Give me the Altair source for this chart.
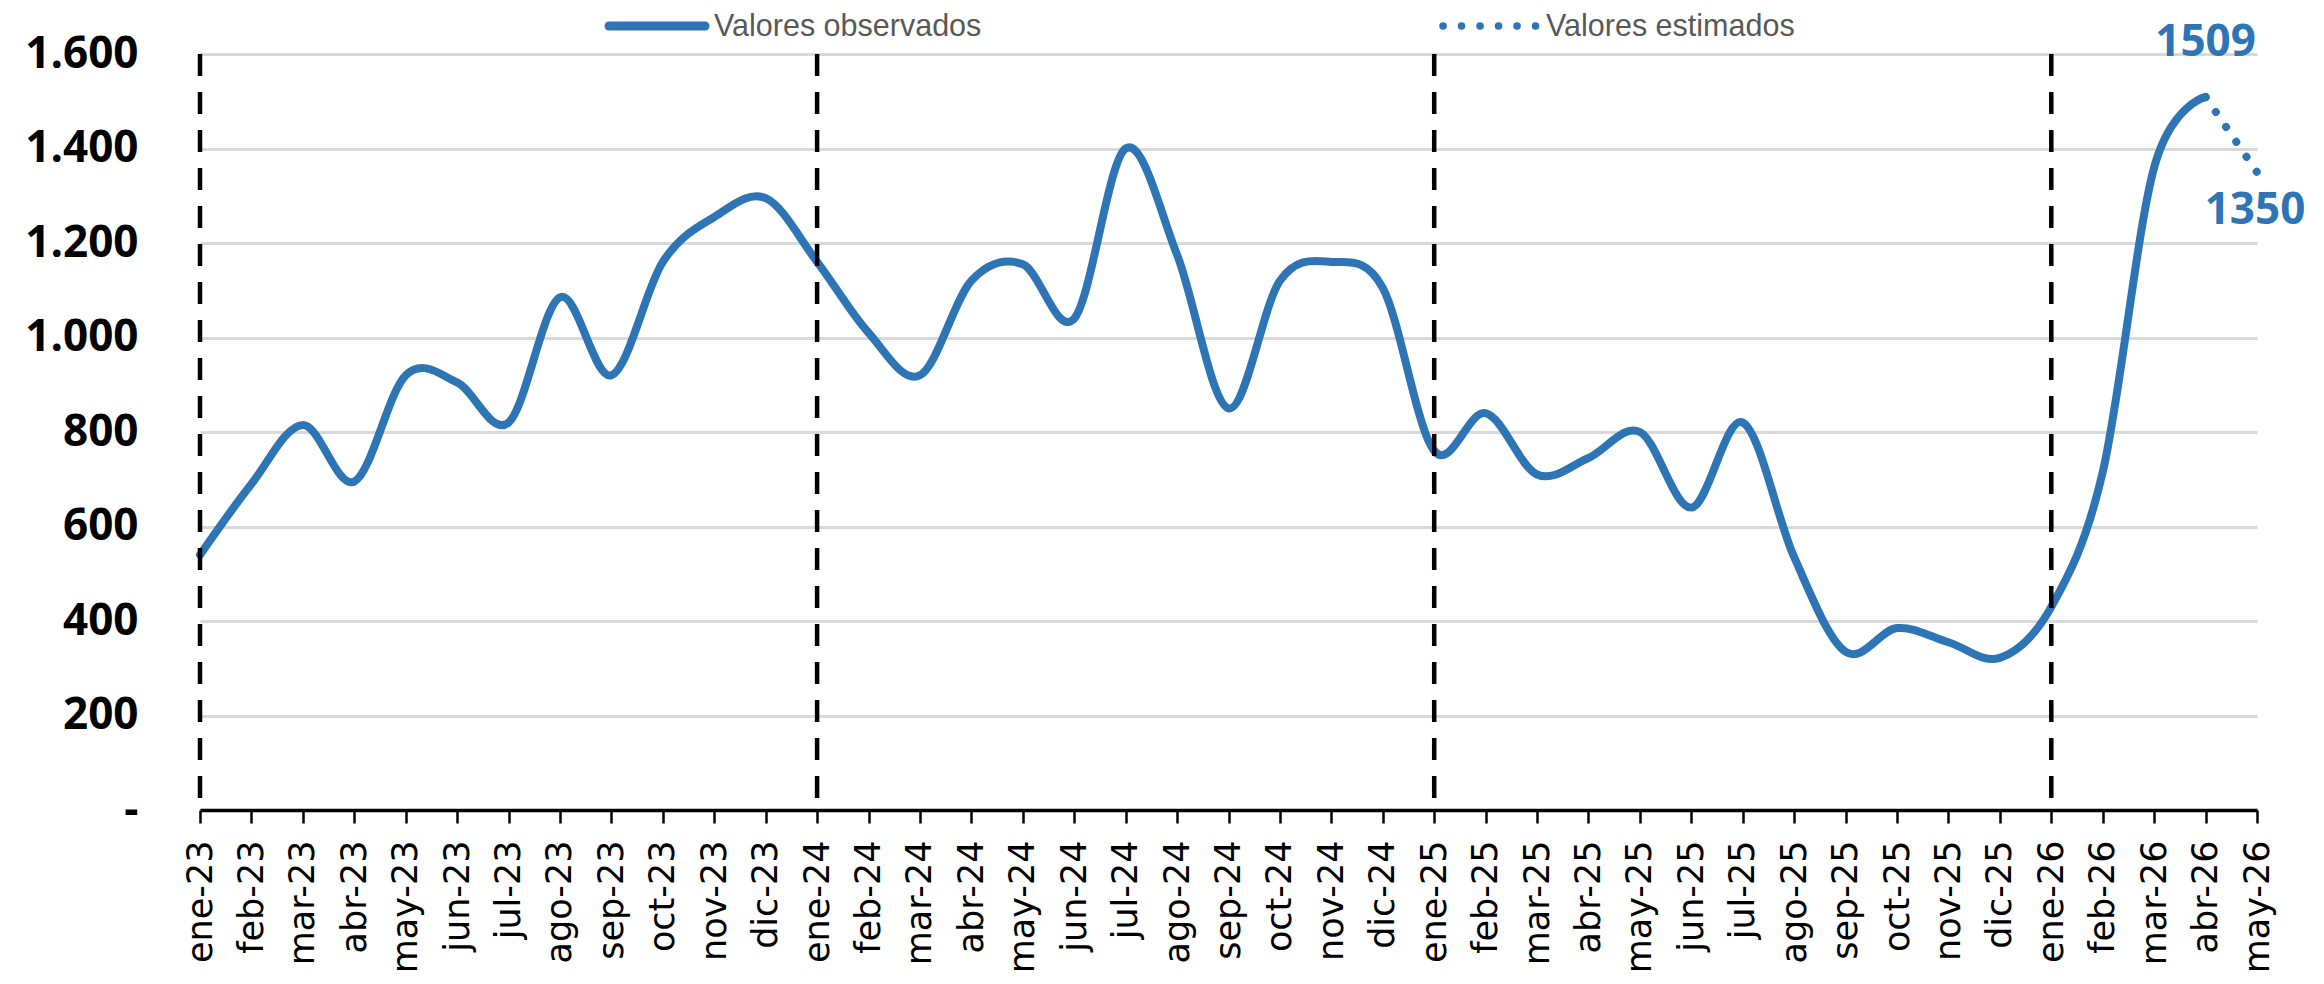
import altair as alt
import pandas as pd

months = [
    "ene-23", "feb-23", "mar-23", "abr-23", "may-23", "jun-23", "jul-23", "ago-23",
    "sep-23", "oct-23", "nov-23", "dic-23",
    "ene-24", "feb-24", "mar-24", "abr-24", "may-24", "jun-24", "jul-24", "ago-24",
    "sep-24", "oct-24", "nov-24", "dic-24",
    "ene-25", "feb-25", "mar-25", "abr-25", "may-25", "jun-25", "jul-25", "ago-25",
    "sep-25", "oct-25", "nov-25", "dic-25",
    "ene-26", "feb-26", "mar-26", "abr-26", "may-26",
]
observed_months = months[:40]
observed = [
    540, 690, 815, 695, 920, 905, 820, 1085, 920, 1160, 1255, 1295,
    1160, 1010, 920, 1120, 1155, 1040, 1400, 1175, 850, 1120, 1160, 1105,
    760, 840, 710, 745, 800, 640, 820, 535, 335, 385, 355, 322,
    430, 715, 1360, 1509,
]
estimated_months = ["abr-26", "may-26"]
estimated = [1509, 1350]
year_starts = ["ene-23", "ene-24", "ene-25", "ene-26"]
peak_month, peak_value = "abr-26", 1509
last_month, last_value = "may-26", 1350
y_ticks = [0, 200, 400, 600, 800, 1000, 1200, 1400, 1600]
legend_labels = ["Valores observados", "Valores estimados"]

BLUE = "#2E75B6"
W, H = 2057, 756

obs_df = pd.DataFrame({"mes": observed_months, "valor": observed})
est_df = pd.DataFrame({"mes": estimated_months, "valor": estimated})
rule_df = pd.DataFrame({"mes": year_starts})
peak_df = pd.DataFrame({"mes": [peak_month], "valor": [peak_value], "txt": [str(peak_value)]})
last_df = pd.DataFrame({"mes": [last_month], "valor": [last_value], "txt": [str(last_value)]})

x_enc = alt.X(
    "mes:N",
    sort=months,
    scale=alt.Scale(type="point", padding=0, domain=months),
    title=None,
    axis=alt.Axis(
        labelAngle=-90,
        labelFont="DejaVu Sans",
        labelFontSize=35,
        labelColor="#000000",
        labelPadding=17,
        labelOverlap=False,
        labelFlush=False,
        tickSize=13,
        tickWidth=2.5,
        tickColor="#000000",
        domainColor="#000000",
        domainWidth=3.5,
        grid=False,
    ),
)
y_enc = alt.Y(
    "valor:Q",
    scale=alt.Scale(domain=[0, 1600], nice=False, zero=True),
    title=None,
    axis=alt.Axis(
        values=y_ticks,
        grid=True,
        gridColor="#d9d9d9",
        gridWidth=3,
        domain=False,
        ticks=False,
        labelFont="Open Sans",
        labelFontSize=44,
        labelFontWeight="bold",
        labelColor="#000000",
        labelPadding=62,
        labelOverlap=False,
        labelExpr="datum.value == 0 ? '-' : replace(format(datum.value, ','), ',', '.')",
    ),
)

line_obs = alt.Chart(obs_df).mark_line(
    interpolate="cardinal", strokeWidth=8, color=BLUE, strokeCap="round", strokeJoin="round"
).encode(x=x_enc, y=y_enc)

line_est = alt.Chart(est_df).mark_line(
    strokeWidth=8, color=BLUE, strokeCap="round", strokeDash=[0.1, 18]
).encode(x=x_enc, y=y_enc)

rules = alt.Chart(rule_df).mark_rule(
    color="#000000", strokeWidth=4.5, strokeDash=[22, 16]
).encode(x=x_enc, y=alt.datum(1600), y2=alt.datum(0))

peak_label = alt.Chart(peak_df).mark_text(
    font="Open Sans", fontSize=44, fontWeight="bold", color=BLUE,
    align="center", baseline="alphabetic", dy=-41
).encode(x=x_enc, y=y_enc, text="txt:N")

last_label = alt.Chart(last_df).mark_text(
    font="Open Sans", fontSize=44, fontWeight="bold", color=BLUE,
    align="center", baseline="alphabetic", dx=-2, dy=52
).encode(x=x_enc, y=y_enc, text="txt:N")

one = pd.DataFrame({"k": [0]})
leg_line = alt.Chart(one).mark_rule(
    color=BLUE, strokeWidth=9, strokeCap="round"
).encode(x=alt.value(409), x2=alt.value(505), y=alt.value(-28))
leg_dots = alt.Chart(one).mark_rule(
    color=BLUE, strokeWidth=7.5, strokeCap="round", strokeDash=[0.1, 18.4]
).encode(x=alt.value(1243), x2=alt.value(1337), y=alt.value(-28))
leg_text1 = alt.Chart(pd.DataFrame({"t": [legend_labels[0]]})).mark_text(
    font="Liberation Sans", fontSize=30.5, color="#595959", align="left", baseline="alphabetic"
).encode(x=alt.value(514), y=alt.value(-18), text="t:N")
leg_text2 = alt.Chart(pd.DataFrame({"t": [legend_labels[1]]})).mark_text(
    font="Liberation Sans", fontSize=30.5, color="#595959", align="left", baseline="alphabetic"
).encode(x=alt.value(1346), y=alt.value(-18), text="t:N")

chart = alt.layer(
    line_obs, line_est, rules, peak_label, last_label,
    leg_line, leg_dots, leg_text1, leg_text2,
).properties(
    width=W, height=H,
    autosize=alt.AutoSizeParams(type="none"),
    padding={"left": 192, "top": 46, "right": 59, "bottom": 164},
    background="white",
).configure_view(stroke=None)

chart.save("out.html", embed_options={"renderer": "svg", "actions": False})
